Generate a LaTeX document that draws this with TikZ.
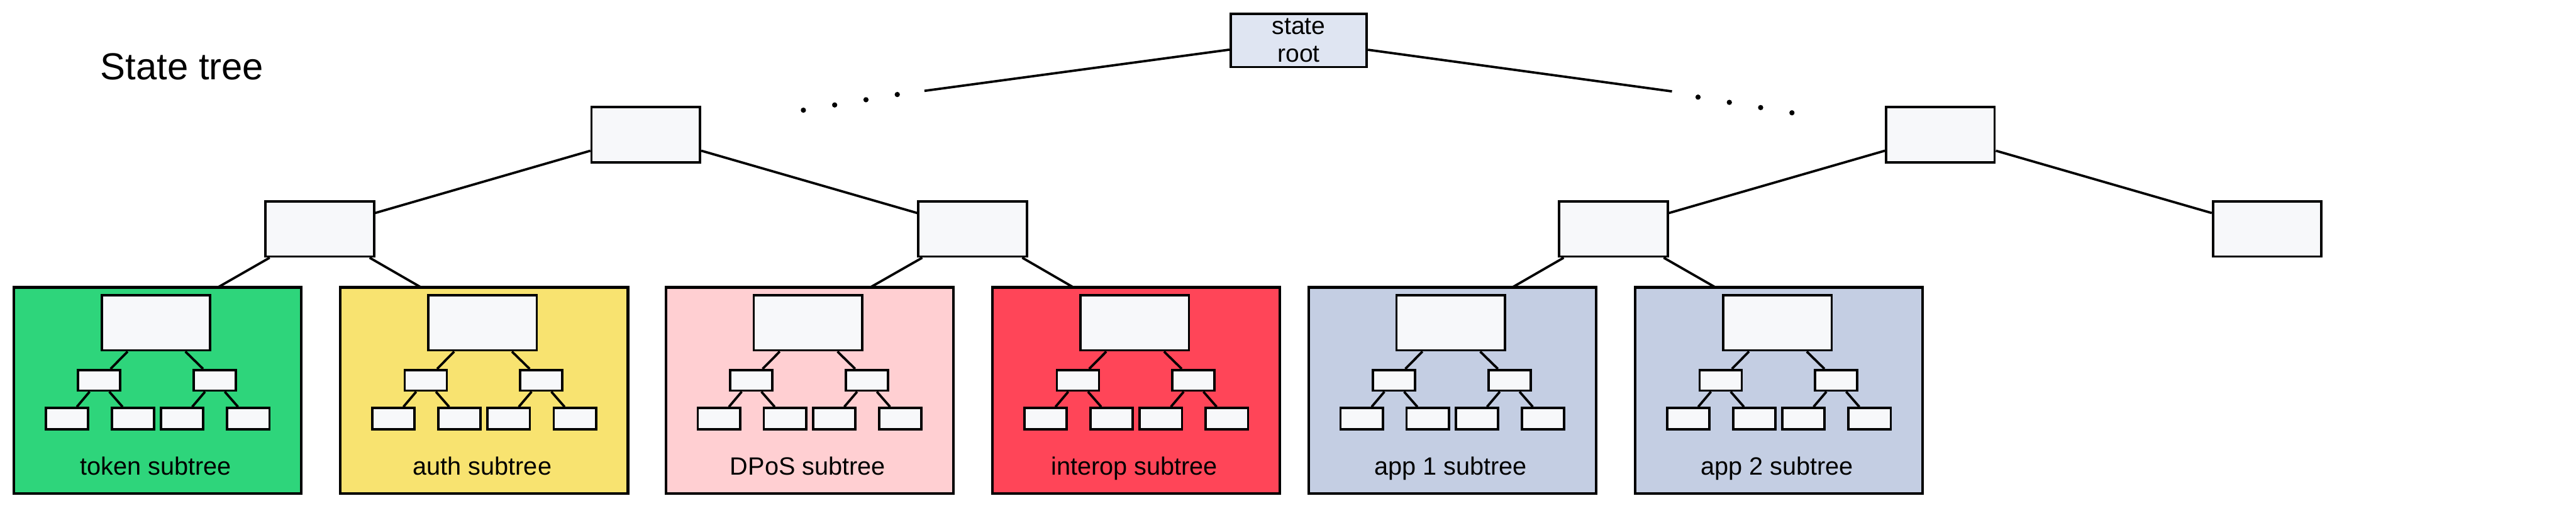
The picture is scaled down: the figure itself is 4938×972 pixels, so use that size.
\documentclass[tikz,border=0pt]{standalone}
\usepackage{fontspec}
\setmainfont{Liberation Sans}
\usetikzlibrary{backgrounds}
\definecolor{nodefill}{RGB}{247,248,250}
\definecolor{rootfill}{RGB}{223,229,242}
\definecolor{tokenc}{RGB}{46,213,123}
\definecolor{authc}{RGB}{248,227,112}
\definecolor{dposc}{RGB}{255,207,210}
\definecolor{interc}{RGB}{255,69,88}
\definecolor{appc}{RGB}{196,206,227}
\tikzset{
  tnode/.style={draw, fill=nodefill, line width=0.045cm, inner sep=0pt, minimum width=2.08cm, minimum height=1.055cm},
  midnode/.style={tnode, minimum width=0.807cm, minimum height=0.393cm},
  leafnode/.style={tnode, minimum width=0.81cm, minimum height=0.407cm},
  subbox/.style={draw, line width=0.05cm, inner sep=0pt, minimum width=5.51cm, minimum height=3.945cm},
  edge/.style={line width=0.045cm},
  dotnode/.style={circle, fill=black, inner sep=0pt, minimum size=0.1cm},
  lbl/.style={font=\fontsize{13.6}{16}\selectfont, inner sep=0pt, anchor=base},
}
\newcommand\mysubtree[4]{%
  \node[subbox, fill=#3] (#1box) at (#2,747.75) {};
  \node[tnode] (#1top) at ({#2-3},618.25) {};
  \node[midnode] (#1ma) at ({#2-111.7},728.3) {};
  \node[midnode] (#1mb) at ({#2+109.7},728.3) {};
  \node[leafnode] (#1la) at ({#2-173.8},801.7) {};
  \node[leafnode] (#1lb) at ({#2-47.2},801.7) {};
  \node[leafnode] (#1lc) at ({#2+47.2},801.7) {};
  \node[leafnode] (#1ld) at ({#2+174},801.7) {};
  \draw[edge] (#1top) -- (#1ma);
  \draw[edge] (#1top) -- (#1mb);
  \draw[edge] (#1ma) -- (#1la);
  \draw[edge] (#1ma) -- (#1lb);
  \draw[edge] (#1mb) -- (#1lc);
  \draw[edge] (#1mb) -- (#1ld);
  \node[lbl] (#1lbl) at ({#2-3.5},910) {#4};
}
\begin{document}
\begin{tikzpicture}[x=0.01cm, y=-0.01cm]
\useasboundingbox (0,0) rectangle (4938,972);
% title
\node[font=\fontsize{20.5}{24}\selectfont, inner sep=0pt, anchor=base] (title) at (349,153) {State tree};
% root
\node[tnode, fill=rootfill, minimum width=2.61cm, minimum height=1.02cm, align=center, font=\fontsize{13.4}{15}\selectfont] (root) at (2489.5,77.2) {state\\root};
\coordinate (rl) at (1772,174);
\coordinate (rr) at (3205,175);
\draw[edge] (root) -- (rl);
\draw[edge] (root) -- (rr);
\node[dotnode] (d1) at (1540,211) {};
\node[dotnode] (d2) at (1600,201) {};
\node[dotnode] (d3) at (1660,191) {};
\node[dotnode] (d4) at (1720,181) {};
\node[dotnode] (d5) at (3255,186) {};
\node[dotnode] (d6) at (3315,196) {};
\node[dotnode] (d7) at (3375,206) {};
\node[dotnode] (d8) at (3435,216) {};
% level 1
\node[tnode] (la) at (1238,258) {};
\node[tnode] (lb) at (3719.5,258) {};
% level 2
\node[tnode] (ma) at (613,438.5) {};
\node[tnode] (mb) at (1864.5,438.5) {};
\node[tnode] (mc) at (3093,438.5) {};
\node[tnode] (md) at (4346,438.5) {};
\draw[edge] (la) -- (ma);
\draw[edge] (la) -- (mb);
\draw[edge] (lb) -- (mc);
\draw[edge] (lb) -- (md);
% subtrees
\mysubtree{tok}{302}{tokenc}{token subtree}
\mysubtree{auth}{928}{authc}{auth subtree}
\mysubtree{dpos}{1552}{dposc}{DPoS subtree}
\mysubtree{inter}{2178}{interc}{interop subtree}
\mysubtree{appa}{2784}{appc}{app 1 subtree}
\mysubtree{appb}{3410}{appc}{app 2 subtree}
\begin{pgfonlayer}{background}
  \fill[white] (0,0) rectangle (4938,972);
  \draw[edge] (ma) -- (toktop);
  \draw[edge] (ma) -- (authtop);
  \draw[edge] (mb) -- (dpostop);
  \draw[edge] (mb) -- (intertop);
  \draw[edge] (mc) -- (appatop);
  \draw[edge] (mc) -- (appbtop);
\end{pgfonlayer}
\end{tikzpicture}
\end{document}
